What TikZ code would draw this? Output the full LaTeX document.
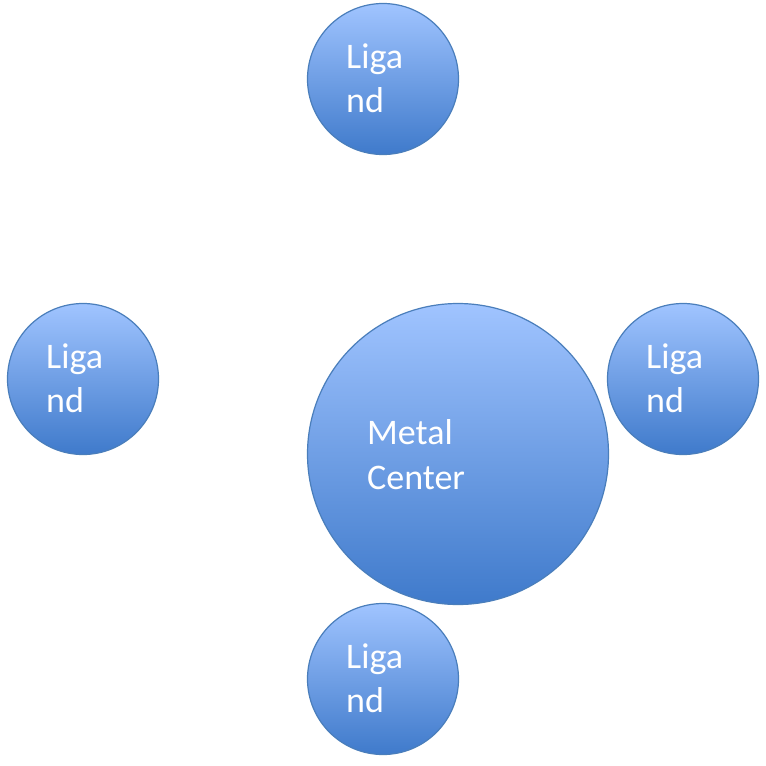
\documentclass[tikz,border=0pt]{standalone}
\usepackage{fontspec}
\setmainfont{Carlito}
\definecolor{ctop}{HTML}{A0C4FF}
\definecolor{cbot}{HTML}{3F7ACB}
\definecolor{cline}{HTML}{4A7EBB}
\begin{document}
\begin{tikzpicture}[x=1pt,y=-1pt,
  ball/.style={circle,draw=cline,line width=1.2pt,top color=ctop,bottom color=cbot,inner sep=0pt},
  lig/.style={ball,minimum size=151pt},
  metal/.style={ball,minimum size=301pt},
  lbl/.style={anchor=base west,inner sep=0pt,text=white,font=\fontsize{36}{44}\selectfont}]
\useasboundingbox (0,0) rectangle (766,766);
\node[lig] (top) at (383,79) {};
\node[lig] (left) at (83,379) {};
\node[lig] (right) at (683,379) {};
\node[lig] (bottom) at (383,679) {};
\node[metal] (metal) at (458,454) {};
\node[lbl] (t1) at (346,68) {Liga};
\node[lbl] (t2) at (346,112) {nd};
\node[lbl] (l1) at (46,368) {Liga};
\node[lbl] (l2) at (46,412) {nd};
\node[lbl] (r1) at (646,368) {Liga};
\node[lbl] (r2) at (646,412) {nd};
\node[lbl] (b1) at (346,668) {Liga};
\node[lbl] (b2) at (346,712) {nd};
\node[lbl] (m1) at (367,444) {Metal};
\node[lbl] (m2) at (367,489) {Center};
\end{tikzpicture}
\end{document}
